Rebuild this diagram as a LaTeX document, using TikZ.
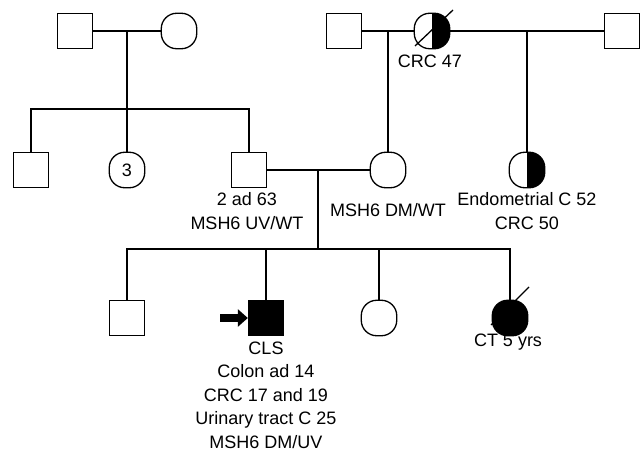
\documentclass[tikz,border=0pt]{standalone}
\usepackage{fontspec}
\setmainfont{Liberation Sans}
\usepackage{tikz}
\usetikzlibrary{arrows.meta,positioning}

\begin{document}
\begin{tikzpicture}[x=1pt, y=-1pt, line width=1.3pt,
  male/.style={draw, rectangle, minimum size=35pt, inner sep=0pt},
  female/.style={draw, rectangle, rounded corners=15.5pt, minimum size=35.5pt, inner sep=0pt},
  aff/.style={fill=black},
  halfaff/.style={path picture={\fill[sharp corners] (path picture bounding box.north) rectangle (path picture bounding box.south east);}},
  lbl/.style={align=center, inner sep=0pt, font=\fontsize{18}{23.5}\selectfont}]
\useasboundingbox (0,0) rectangle (644,457);
% generation I
\node[male] (gf1) at (75,31) {};
\node[female] (gm1) at (179,31) {};
\node[male] (gf2) at (344,31) {};
\node[female, halfaff] (gm2) at (432,31) {};
\node[male] (gf3) at (622,31) {};
\node[lbl] (gm2lbl) at (430,61) {CRC 47};
% generation II
\node[male] (u1) at (31,170) {};
\node[female] (a3) at (127,170) {\fontsize{18}{20}\selectfont 3};
\node[male] (fa) at (249,170) {};
\node[female] (mo) at (388,170) {};
\node[female, halfaff] (au) at (527,170) {};
\node[lbl] (falbl) at (247,211) {2 ad 63\\MSH6 UV/WT};
\node[lbl] (molbl) at (388,210) {MSH6 DM/WT};
\node[lbl] (aulbl) at (527,211) {Endometrial C 52\\CRC 50};
% generation III
\node[male] (b1) at (127,318) {};
\node[male, aff] (pb) at (266,318) {};
\node[female] (s1) at (379,318) {};
\node[female, aff] (s2) at (510,318) {};
\node[lbl, below=5pt of pb] (pblbl) {CLS\\Colon ad 14\\CRC 17 and 19\\Urinary tract C 25\\MSH6 DM/UV};
\node[lbl] (s2lbl) at (508,342) {CT 5 yrs};
% matings and lines of descent
\coordinate (c1) at (127,31);
\coordinate (c2) at (388,31);
\coordinate (c3) at (527,31);
\coordinate (c4) at (318,170);
\coordinate (sib1) at (127,109);
\coordinate (sib2) at (318,249);
\draw (gf1) -- (gm1);
\draw (gf2) -- (gm2);
\draw (gm2) -- (gf3);
\draw (c1) -- (a3);
\draw (u1.north) |- (sib1) -| (fa.north);
\draw (c2) -- (mo);
\draw (c3) -- (au);
\draw (fa) -- (mo);
\draw (c4) -- (sib2);
\draw (b1.north) |- (sib2) -| (s2.north);
\draw (pb.north) -- (pb.north |- sib2);
\draw (s1.north) -- (s1.north |- sib2);
% deceased
\draw ([shift={(-17,15)}]gm2.center) -- ([shift={(21,-21)}]gm2.center);
\draw ([shift={(-19,7)}]s2.center) -- ([shift={(19,-31)}]s2.center);
% proband
\coordinate (pa) at (220,318);
\draw[line width=8pt, -{Triangle[length=10pt, width=17pt]}] (pa) -- (pb.west);
\end{tikzpicture}
\end{document}
